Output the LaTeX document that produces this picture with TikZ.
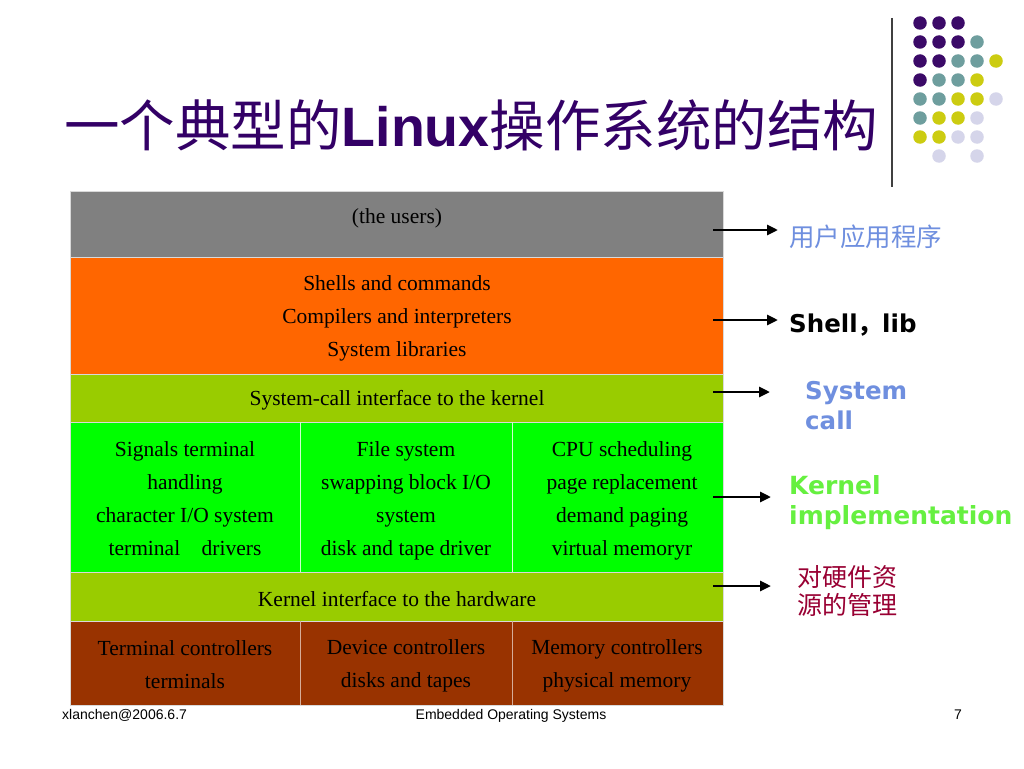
\documentclass[tikz,border=0pt]{standalone}
\usepackage{fontspec}
\setmainfont{Liberation Serif}
\newfontfamily\arial{Liberation Sans}
\newfontfamily\verd{DejaVu Sans}
\newfontfamily\cjk{Noto Sans CJK SC}
\usetikzlibrary{arrows.meta}
\definecolor{tpurple}{HTML}{330066}
\definecolor{dP}{HTML}{3B0A68}
\definecolor{dT}{HTML}{6E9E9E}
\definecolor{dY}{HTML}{CCCC11}
\definecolor{dL}{HTML}{D5D5EA}
\definecolor{rgray}{HTML}{808080}
\definecolor{rorange}{HTML}{FF6600}
\definecolor{rlime}{HTML}{99CC00}
\definecolor{rgreen}{HTML}{00FF00}
\definecolor{rbrown}{HTML}{993300}
\definecolor{lblue}{HTML}{6F8FDF}
\definecolor{lgreen}{HTML}{66F040}
\definecolor{lred}{HTML}{990033}
\tikzset{
  band/.style={draw=white!85!black, line width=0.6pt, minimum width=653pt, inner sep=0pt, outer sep=0pt},
  cell/.style={font=\fontsize{21.5}{33}\selectfont, align=center, inner sep=0pt},
  lbl/.style={anchor=west, inner sep=0pt, align=left},
  arr/.style={-{Triangle[length=11pt,width=10pt]}, line width=2.8pt, black},
  dot/.style={circle, inner sep=0pt, minimum size=13.5pt},
  foot/.style={font=\arial\fontsize{14}{16}\selectfont, inner sep=0pt}
}
\begin{document}
\begin{tikzpicture}[x=1pt,y=-1pt]
\useasboundingbox (0,0) rectangle (1024,768);
\fill[white] (0,0) rectangle (1024,768);
% decoration
\draw[line width=1.3pt, black!75] (892,18) -- (892,187);
\foreach \c/\r/\col in {0/0/dP,1/0/dP,2/0/dP,
  0/1/dP,1/1/dP,2/1/dP,3/1/dT,
  0/2/dP,1/2/dP,2/2/dT,3/2/dT,4/2/dY,
  0/3/dP,1/3/dT,2/3/dT,3/3/dY,
  0/4/dT,1/4/dT,2/4/dY,3/4/dY,4/4/dL,
  0/5/dT,1/5/dY,2/5/dY,3/5/dL,
  0/6/dY,1/6/dY,2/6/dL,3/6/dL,
  1/7/dL,3/7/dL}
  \node[dot, fill=\col] (d\c\r) at ({920+19*\c},{23+19*\r}) {};
% title
\node[anchor=base west, inner sep=0pt, text=tpurple, font=\fontsize{55.5}{60}\selectfont] (title) at (64,146)
  {{\cjk 一个典型的}{\arial\bfseries Linux}{\cjk 操作系统的结构}};
% bands
\node[band, fill=rgray, minimum height=66pt] (users) at (396.5,224.5) {};
\node[band, fill=rorange, minimum height=117pt] (shells) at (396.5,316) {};
\node[band, fill=rlime, minimum height=48pt] (syscall) at (396.5,398.5) {};
\node[band, fill=rgreen, minimum height=150pt] (kernel) at (396.5,497.5) {};
\node[band, fill=rlime, minimum height=49pt] (hwif) at (396.5,597) {};
\node[band, fill=rbrown, minimum height=84pt] (hw) at (396.5,663.5) {};
\draw[white!80!rgreen, line width=0.6pt] (300,422) -- (300,572) (512,422) -- (512,572);
\draw[white!60!rbrown, line width=0.6pt] (300,621) -- (300,705) (512,621) -- (512,705);
% texts
\node[cell] (t1) at (397,218) {(the users)};
\node[cell] (t2) at (397,318) {Shells and commands\\Compilers and interpreters\\System libraries};
\node[cell] (t3) at (397,400) {System-call interface to the kernel};
\node[cell] (k1) at (185,499) {Signals terminal\\handling\\character I/O system\\terminal\quad drivers};
\node[cell] (k2) at (406,500.5) {File system\\swapping block I/O\\system\\disk and tape driver};
\node[cell] (k3) at (622,500.5) {CPU scheduling\\page replacement\\demand paging\\virtual memoryr};
\node[cell] (t4) at (397,599) {Kernel interface to the hardware};
\node[cell] (h1) at (185,665) {Terminal controllers\\terminals};
\node[cell] (h2) at (406,666) {Device controllers\\disks and tapes};
\node[cell] (h3) at (617,666) {Memory controllers\\physical memory};
% right labels
\node[lbl, text=lblue, font=\cjk\fontsize{25.5}{28}\selectfont] (L1) at (789,237) {用户应用程序};
\node[lbl, text=black, font=\verd\bfseries\fontsize{24.5}{28}\selectfont] (L2) at (789,325) {Shell{\cjk ，}lib};
\node[lbl, text=lblue, font=\verd\bfseries\fontsize{24.5}{30}\selectfont] (L3) at (805,406) {System\\call};
\node[lbl, text=lgreen, font=\verd\bfseries\fontsize{25}{30}\selectfont] (L4) at (789,503) {Kernel\\implementation};
\node[lbl, text=lred, font=\cjk\fontsize{25}{28}\selectfont] (L5) at (797,591) {对硬件资\\源的管理};
% arrows
\coordinate (a1s) at (713,230); \coordinate (a1e) at (778,230);
\coordinate (a2s) at (713,320); \coordinate (a2e) at (778,320);
\coordinate (a3s) at (713,392); \coordinate (a3e) at (770,392);
\coordinate (a4s) at (713,497); \coordinate (a4e) at (771,497);
\coordinate (a5s) at (713,586); \coordinate (a5e) at (771,586);
\draw[arr] (a1s) -- (a1e);
\draw[arr] (a2s) -- (a2e);
\draw[arr] (a3s) -- (a3e);
\draw[arr] (a4s) -- (a4e);
\draw[arr] (a5s) -- (a5e);
% footer
\node[foot, anchor=base west] (f1) at (62,719) {xlanchen@2006.6.7};
\node[foot, anchor=base] (f2) at (511,719) {Embedded Operating Systems};
\node[foot, anchor=base] (f3) at (958,719) {7};
\end{tikzpicture}
\end{document}
